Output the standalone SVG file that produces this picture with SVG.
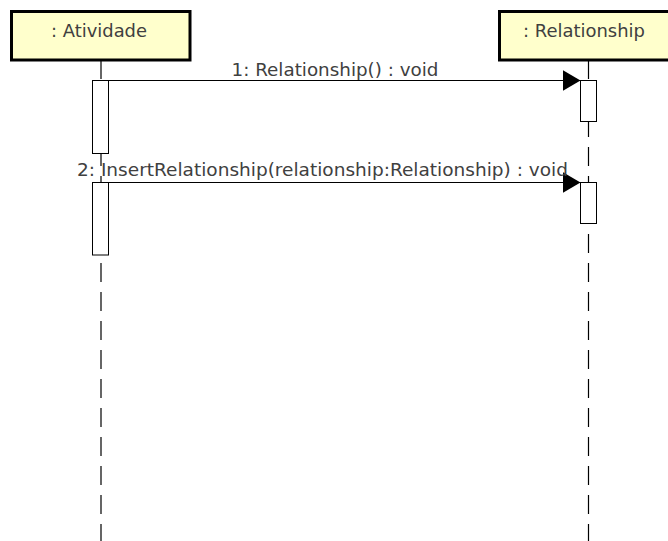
<svg xmlns="http://www.w3.org/2000/svg" width="668" height="541" viewBox="0 0 668 541">
  <style>
    .head { fill: #ffffcc; stroke: #000; stroke-width: 3; }
    .life { stroke: #000; stroke-width: 1.2; fill: none; stroke-dasharray: 19 10; }
    .act { fill: #fff; stroke: #000; stroke-width: 1; }
    .msg { stroke: #000; stroke-width: 1.2; fill: none; marker-end: url(#arrow); }
    text { font-family: "DejaVu Sans", Verdana, sans-serif; font-size: 17px; fill: #404040; }
    .c { text-anchor: middle; }
  </style>
  <defs>
    <marker id="arrow" markerWidth="18" markerHeight="21" refX="18" refY="10.5" orient="auto" markerUnits="userSpaceOnUse">
      <path d="M0,0 L18,10.5 L0,21 Z" fill="#000"/>
    </marker>
  </defs>
  <rect width="668" height="541" fill="#fff"/>

  <!-- lifelines (drawn first so activations sit on top) -->
  <g id="lifelines">
    <line class="life" x1="101" y1="60" x2="101" y2="541"/>
    <line class="life" x1="588.5" y1="60" x2="588.5" y2="541"/>
  </g>

  <g id="atividade">
    <rect class="head" x="11.5" y="11.5" width="178.5" height="48.5"/>
    <text class="c" x="99" y="36.5" textLength="96" lengthAdjust="spacingAndGlyphs">: Atividade</text>
    <rect class="act" x="92.5" y="80.5" width="16" height="73"/>
    <rect class="act" x="92.5" y="182.5" width="16" height="72.5"/>
  </g>

  <g id="relationship">
    <rect class="head" x="499.5" y="11.5" width="178" height="48.5"/>
    <text class="c" x="584" y="36.5" textLength="122" lengthAdjust="spacingAndGlyphs">: Relationship</text>
    <rect class="act" x="580.5" y="80.5" width="16" height="41"/>
    <rect class="act" x="580.5" y="182.5" width="16" height="41"/>
  </g>

  <g id="connectors">
    <line class="msg" x1="108.5" y1="80.5" x2="580.5" y2="80.5"/>
    <text class="c" x="335" y="75.5" textLength="207" lengthAdjust="spacingAndGlyphs">1: Relationship() : void</text>
    <line class="msg" x1="108.5" y1="182.5" x2="580.5" y2="182.5"/>
    <text class="c" x="322.5" y="175.5" textLength="491" lengthAdjust="spacingAndGlyphs">2: InsertRelationship(relationship:Relationship) : void</text>
  </g>
</svg>
